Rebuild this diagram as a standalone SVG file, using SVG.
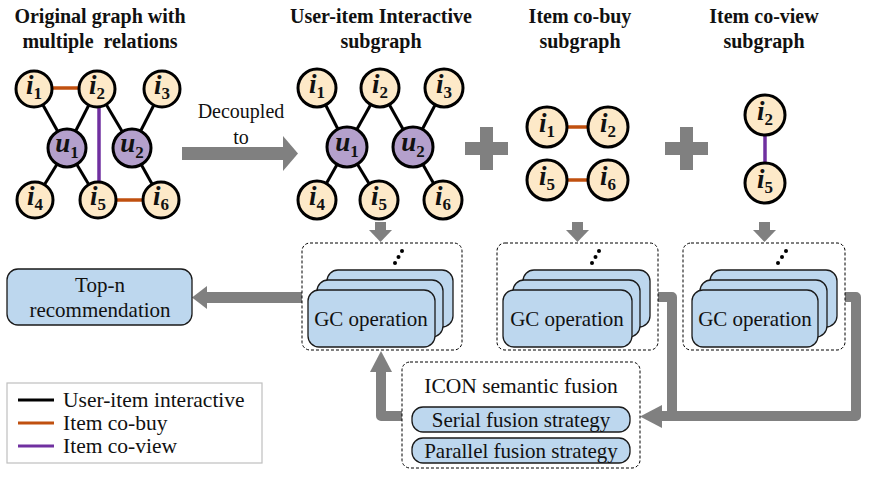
<svg xmlns="http://www.w3.org/2000/svg" width="879" height="479" viewBox="0 0 879 479">
<style>
text{font-family:'Liberation Serif','DejaVu Serif',serif;fill:#111}
.title{font-size:20px;font-weight:bold;text-anchor:middle}
.lbl{font-size:21px;text-anchor:middle}
.it{fill:#fde9c8;stroke:#000;stroke-width:3}
.us{fill:#b4a0cc;stroke:#000;stroke-width:3}
.nl{font-weight:bold;text-anchor:middle}
.m{font-style:italic;font-size:27px}
.s{font-size:17px}
.e{stroke:#000;stroke-width:3}
.eo{stroke:#c0500f;stroke-width:3.5}
.ep{stroke:#7030a0;stroke-width:3.5}
.dash{fill:#fff;stroke:#000;stroke-width:1;stroke-dasharray:3 2}
.card{fill:#bdd7ee;stroke:#1a1a1a;stroke-width:1.3}
.gl{fill:none;stroke:#808080;stroke-width:10;stroke-linejoin:round}
.gf{fill:#808080}
</style>

<g id="titles">
<text class="title" x="100" y="23">Original graph with</text>
<text class="title" x="100" y="48" xml:space="preserve" style="white-space:pre">multiple  relations</text>
<text class="title" x="381" y="23">User-item Interactive</text>
<text class="title" x="381" y="48">subgraph</text>
<text class="title" x="580" y="23">Item co-buy</text>
<text class="title" x="580" y="48">subgraph</text>
<text class="title" x="764" y="23">Item co-view</text>
<text class="title" x="764" y="48">subgraph</text>
</g>

<g id="connectors">
<line class="e" x1="34" y1="89" x2="67" y2="148"/>
<line class="e" x1="97" y1="89" x2="67" y2="148"/>
<line class="e" x1="97" y1="89" x2="132" y2="148"/>
<line class="e" x1="162" y1="89" x2="132" y2="148"/>
<line class="e" x1="67" y1="148" x2="35" y2="200"/>
<line class="e" x1="67" y1="148" x2="98" y2="200"/>
<line class="e" x1="132" y1="148" x2="161" y2="200"/>
<line class="eo" x1="34" y1="88" x2="97" y2="88"/>
<line class="eo" x1="98" y1="200" x2="161" y2="200"/>
<line class="ep" x1="99" y1="89" x2="99" y2="200"/>
<line class="e" x1="317" y1="88" x2="347" y2="147"/>
<line class="e" x1="380" y1="88" x2="347" y2="147"/>
<line class="e" x1="380" y1="88" x2="413" y2="147"/>
<line class="e" x1="444" y1="88" x2="413" y2="147"/>
<line class="e" x1="347" y1="147" x2="317" y2="200"/>
<line class="e" x1="347" y1="147" x2="379" y2="200"/>
<line class="e" x1="413" y1="147" x2="443" y2="200"/>
<line class="eo" x1="547" y1="127" x2="608" y2="127"/>
<line class="eo" x1="547" y1="180" x2="608" y2="180"/>
<line class="ep" x1="765" y1="115" x2="765" y2="183"/>
<rect class="gf" x="182" y="147" width="102" height="13"/>
<polygon class="gf" points="283,136 298,153.5 283,171"/>
<path class="gf" d="M480,127h13v15h15v13h-15v15h-13v-15h-15v-13h15z"/>
<path class="gf" d="M680,127h13v15h15v13h-15v15h-13v-15h-15v-13h15z"/>
<rect class="gf" x="375" y="222" width="11" height="9"/>
<polygon class="gf" points="369,230 392,230 380.5,242"/>
<rect class="gf" x="572" y="222" width="11" height="9"/>
<polygon class="gf" points="566,230 589,230 577.5,242"/>
<rect class="gf" x="759" y="222" width="11" height="9"/>
<polygon class="gf" points="753,230 776,230 764.5,242"/>
<rect class="gf" x="206" y="292" width="96" height="11"/>
<polygon class="gf" points="207,286 207,309 192,297.5"/>
<polyline class="gl" points="658,297 672,297 672,416"/>
<polyline class="gl" points="845,297 856,297 856,416 660,416"/>
<polygon class="gf" points="662,405 662,428 640,416.5"/>
<polyline class="gl" points="402,416 381,416 381,370"/>
<polygon class="gf" points="370,372 392,372 381,351"/>
</g>

<g id="orig-i1"><circle class="it" cx="34" cy="89" r="18"/><text class="nl" x="34" y="94"><tspan class="m">i</tspan><tspan class="s" dy="5">1</tspan></text></g>
<g id="orig-i2"><circle class="it" cx="97" cy="89" r="18"/><text class="nl" x="97" y="94"><tspan class="m">i</tspan><tspan class="s" dy="5">2</tspan></text></g>
<g id="orig-i3"><circle class="it" cx="162" cy="89" r="18"/><text class="nl" x="162" y="94"><tspan class="m">i</tspan><tspan class="s" dy="5">3</tspan></text></g>
<g id="orig-u1"><circle class="us" cx="67" cy="148" r="19"/><text class="nl" x="67" y="152"><tspan class="m">u</tspan><tspan class="s" dy="6">1</tspan></text></g>
<g id="orig-u2"><circle class="us" cx="132" cy="148" r="19"/><text class="nl" x="132" y="152"><tspan class="m">u</tspan><tspan class="s" dy="6">2</tspan></text></g>
<g id="orig-i4"><circle class="it" cx="35" cy="200" r="18"/><text class="nl" x="35" y="205"><tspan class="m">i</tspan><tspan class="s" dy="5">4</tspan></text></g>
<g id="orig-i5"><circle class="it" cx="98" cy="200" r="18"/><text class="nl" x="98" y="205"><tspan class="m">i</tspan><tspan class="s" dy="5">5</tspan></text></g>
<g id="orig-i6"><circle class="it" cx="161" cy="200" r="18"/><text class="nl" x="161" y="205"><tspan class="m">i</tspan><tspan class="s" dy="5">6</tspan></text></g>

<g id="decoupled-label"><text class="lbl" x="241" y="118" style="font-size:20px">Decoupled</text><text class="lbl" x="241" y="144" style="font-size:20px">to</text></g>

<g id="ui-i1"><circle class="it" cx="317" cy="88" r="19"/><text class="nl" x="317" y="93"><tspan class="m">i</tspan><tspan class="s" dy="5">1</tspan></text></g>
<g id="ui-i2"><circle class="it" cx="380" cy="88" r="19"/><text class="nl" x="380" y="93"><tspan class="m">i</tspan><tspan class="s" dy="5">2</tspan></text></g>
<g id="ui-i3"><circle class="it" cx="444" cy="88" r="19"/><text class="nl" x="444" y="93"><tspan class="m">i</tspan><tspan class="s" dy="5">3</tspan></text></g>
<g id="ui-u1"><circle class="us" cx="347" cy="147" r="20"/><text class="nl" x="347" y="151"><tspan class="m">u</tspan><tspan class="s" dy="6">1</tspan></text></g>
<g id="ui-u2"><circle class="us" cx="413" cy="147" r="20"/><text class="nl" x="413" y="151"><tspan class="m">u</tspan><tspan class="s" dy="6">2</tspan></text></g>
<g id="ui-i4"><circle class="it" cx="317" cy="200" r="19"/><text class="nl" x="317" y="205"><tspan class="m">i</tspan><tspan class="s" dy="5">4</tspan></text></g>
<g id="ui-i5"><circle class="it" cx="379" cy="200" r="19"/><text class="nl" x="379" y="205"><tspan class="m">i</tspan><tspan class="s" dy="5">5</tspan></text></g>
<g id="ui-i6"><circle class="it" cx="443" cy="200" r="19"/><text class="nl" x="443" y="205"><tspan class="m">i</tspan><tspan class="s" dy="5">6</tspan></text></g>

<g id="cb-i1"><circle class="it" cx="547" cy="127" r="20"/><text class="nl" x="547" y="132"><tspan class="m">i</tspan><tspan class="s" dy="5">1</tspan></text></g>
<g id="cb-i2"><circle class="it" cx="608" cy="127" r="20"/><text class="nl" x="608" y="132"><tspan class="m">i</tspan><tspan class="s" dy="5">2</tspan></text></g>
<g id="cb-i5"><circle class="it" cx="547" cy="180" r="20"/><text class="nl" x="547" y="185"><tspan class="m">i</tspan><tspan class="s" dy="5">5</tspan></text></g>
<g id="cb-i6"><circle class="it" cx="608" cy="180" r="20"/><text class="nl" x="608" y="185"><tspan class="m">i</tspan><tspan class="s" dy="5">6</tspan></text></g>

<g id="cv-i2"><circle class="it" cx="765" cy="115" r="20"/><text class="nl" x="765" y="120"><tspan class="m">i</tspan><tspan class="s" dy="5">2</tspan></text></g>
<g id="cv-i5"><circle class="it" cx="765" cy="183" r="20"/><text class="nl" x="765" y="188"><tspan class="m">i</tspan><tspan class="s" dy="5">5</tspan></text></g>

<g id="gc1">
<rect class="dash" x="302" y="243" width="160" height="107" rx="8"/>
<rect class="card" x="327" y="270" width="126" height="57" rx="11"/>
<rect class="card" x="317" y="280" width="126" height="57" rx="11"/>
<rect class="card" x="308" y="290" width="127" height="57" rx="11"/>
<circle cx="395" cy="263" r="2"/><circle cx="398.5" cy="257" r="2"/><circle cx="402" cy="251" r="2"/>
<text class="lbl" x="371" y="326">GC operation</text>
</g>
<g id="gc2">
<rect class="dash" x="497" y="243" width="161" height="107" rx="8"/>
<rect class="card" x="523" y="270" width="127" height="57" rx="11"/>
<rect class="card" x="513" y="280" width="127" height="57" rx="11"/>
<rect class="card" x="503" y="290" width="129" height="57" rx="11"/>
<circle cx="592" cy="263" r="2"/><circle cx="595.5" cy="257" r="2"/><circle cx="599" cy="251" r="2"/>
<text class="lbl" x="567" y="326">GC operation</text>
</g>
<g id="gc3">
<rect class="dash" x="683" y="243" width="162" height="107" rx="8"/>
<rect class="card" x="710" y="270" width="127" height="57" rx="11"/>
<rect class="card" x="700" y="280" width="127" height="57" rx="11"/>
<rect class="card" x="692" y="290" width="126" height="57" rx="11"/>
<circle cx="778" cy="263" r="2"/><circle cx="782" cy="257" r="2"/><circle cx="786" cy="251" r="2"/>
<text class="lbl" x="755" y="326">GC operation</text>
</g>

<g id="topn">
<rect class="card" x="7" y="269" width="185" height="56" rx="11"/>
<text class="lbl" x="100" y="292">Top-n</text>
<text class="lbl" x="100" y="317">recommendation</text>
</g>

<g id="icon">
<rect class="dash" x="402" y="362" width="238" height="106" rx="8"/>
<text class="lbl" x="521" y="393" style="font-size:21.5px">ICON semantic fusion</text>
<rect class="card" x="412" y="407" width="218" height="25" rx="11"/>
<text class="lbl" x="521" y="427">Serial fusion strategy</text>
<rect class="card" x="412" y="438" width="218" height="25" rx="11"/>
<text class="lbl" x="521" y="458">Parallel fusion strategy</text>
</g>

<g id="legend">
<rect x="7" y="383" width="255" height="80" fill="#fff" stroke="#bfbfbf" stroke-width="1.2"/>
<line x1="18" y1="400" x2="54" y2="400" stroke="#000" stroke-width="3"/>
<line x1="18" y1="423" x2="54" y2="423" stroke="#c0500f" stroke-width="3"/>
<line x1="18" y1="446" x2="54" y2="446" stroke="#7030a0" stroke-width="3"/>
<text x="63" y="407" style="font-size:21.5px">User-item interactive</text>
<text x="63" y="430" style="font-size:21.5px">Item co-buy</text>
<text x="63" y="453" style="font-size:21.5px">Item co-view</text>
</g>
</svg>
